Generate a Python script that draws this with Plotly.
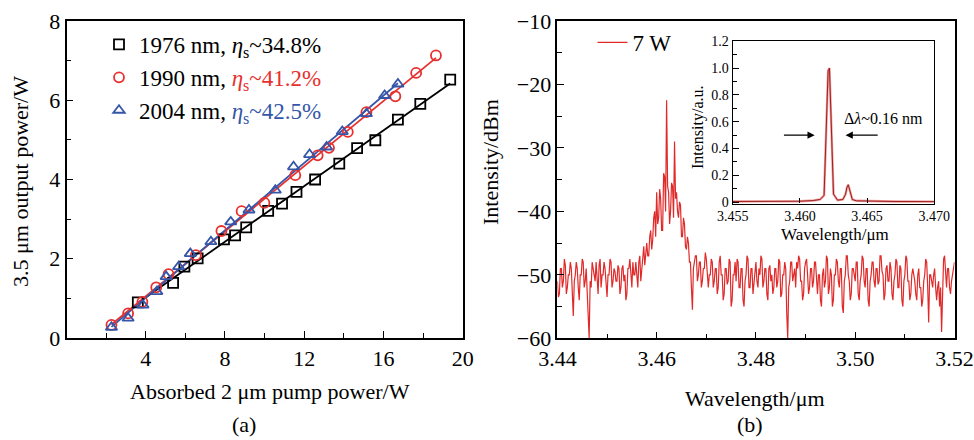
import numpy as np
import plotly.graph_objects as go

# ---------------- data: panel (a) ----------------
x_1976 = [3.6, 5.38, 5.95, 6.62, 7.95, 8.51, 9.07, 10.18, 10.88, 11.61, 12.55, 13.77, 14.67, 15.59, 16.73, 17.86, 19.37]
y_1976 = [0.90, 1.39, 1.80, 2.01, 2.49, 2.59, 2.79, 3.21, 3.39, 3.69, 4.00, 4.40, 4.79, 4.99, 5.51, 5.91, 6.52]

x_1990 = [2.27, 3.11, 3.83, 4.53, 5.15, 6.53, 7.82, 8.84, 9.99, 11.55, 12.68, 13.25, 14.20, 15.14, 16.60, 17.65, 18.65]
y_1990 = [0.33, 0.62, 0.91, 1.28, 1.61, 2.09, 2.70, 3.20, 3.41, 4.11, 4.61, 4.80, 5.20, 5.70, 6.10, 6.69, 7.13]

x_2004 = [2.27, 3.11, 3.86, 4.56, 5.03, 5.66, 6.25, 7.29, 8.29, 9.21, 10.54, 11.46, 12.27, 13.13, 13.92, 15.14, 16.06, 16.73]
y_2004 = [0.27, 0.50, 0.83, 1.17, 1.55, 1.80, 2.13, 2.43, 2.93, 3.23, 3.73, 4.32, 4.63, 4.82, 5.21, 5.66, 6.12, 6.41]

names_a = ["1976 nm", "1990 nm", "2004 nm"]
slopes_a = ["34.8%", "41.2%", "42.5%"]

# ---------------- data: panel (b) ----------------
wl_start, wl_stop = 3.44, 3.52   # sampled every 0.0002 um
spec_dbm = [
    -51, -53.5, -53, -49, -49, -52, -51, -47.5, -48.5, -53, -52, -50, -50, -48, -49, -54, -56.5, -51, -50, -48,
    -49, -52, -54, -50, -50, -47.5, -48, -52, -51, -49, -52, -55, -60, -51, -52, -48, -49, -50.5, -51, -48,
    -50, -53, -48.5, -47.5, -52, -50, -50, -48, -49, -52, -53.5, -50, -50, -47.5, -48, -52, -51, -49, -49.5, -51,
    -51, -48.5, -49, -53, -52, -49, -48.5, -51, -50, -54, -53, -49, -49, -47.5, -51, -52, -48, -50, -50, -48,
    -50, -52, -48, -47, -51, -49, -47, -45.5, -48.5, -46, -45, -47, -47, -44, -43, -46, -44.5, -41, -40, -44,
    -37, -42, -41, -36.5, -38, -43, -43, -34, -34.5, -40, -22.5, -36, -37, -42, -40, -35.5, -36, -41, -29, -38,
    -37, -40, -41, -38.5, -39, -44, -44, -41, -42, -45.5, -46, -44, -45, -48, -48, -52, -55.5, -49, -48, -47,
    -47, -51, -50, -48, -48, -52, -51, -49, -49, -46.5, -47.5, -51, -52, -50, -50, -47.5, -48, -52, -51, -49,
    -49, -53, -52, -48, -47, -50, -50, -54, -53, -49, -49, -51.5, -51, -47.5, -48, -55, -54, -50, -50, -48,
    -51, -47.5, -48, -52, -52, -49, -49, -54, -55, -51, -50, -47, -47.5, -52, -52, -49, -49, -53, -51, -49,
    -48, -51, -52, -49, -50, -47, -47.5, -52, -51, -49, -49, -53, -54, -49, -48.5, -51, -50, -53, -52, -49,
    -49, -52, -51, -47.5, -48, -53.5, -53, -50, -50, -48, -49, -56, -60, -52, -51, -48, -48, -51, -50, -49,
    -52, -48, -49, -47, -47.5, -51, -51, -54, -53, -49, -48, -47.5, -50, -53, -52, -49, -49, -52, -51, -48,
    -48, -52, -53, -50, -50, -54, -55, -50, -49, -52, -51, -47, -47.5, -53, -52, -49, -50, -55, -54, -50,
    -50, -47.5, -48, -51, -52, -49, -49, -55, -56, -51, -50, -47, -47, -50, -51, -54, -53, -49, -49, -50,
    -51, -48, -48, -53, -54, -51, -50, -47, -47.5, -51, -52, -49, -49, -54, -55, -51, -50, -48, -48, -51,
    -52, -49, -49, -51.5, -51, -47, -47, -49.5, -50, -54, -53, -49, -48.5, -51, -51, -48, -49, -53, -54, -51,
    -50, -47.5, -48, -52, -52, -48.5, -49, -54, -55, -51, -50, -47, -47.5, -51, -51, -54, -53, -50, -49, -50,
    -51, -53, -54, -50, -49, -52, -52, -55, -54, -51, -50, -47.5, -48, -52, -57.5, -50, -50, -51, -52, -50,
    -49, -52, -54, -52, -51, -55, -52, -59, -50, -47.5, -47, -51, -52, -49, -49, -52, -53, -51, -50, -49,
    -48,
]
spec_wl = np.linspace(wl_start, wl_stop, len(spec_dbm))

inset_wl = [3.4550, 3.4570, 3.4590, 3.4600, 3.4610, 3.4615, 3.4618, 3.4620, 3.4621, 3.4622, 3.4623,
            3.4625, 3.4628, 3.4632, 3.4634, 3.4635, 3.4636, 3.4637, 3.4639, 3.4642, 3.4650, 3.4660,
            3.4670, 3.4700]
inset_int = [0.005, 0.006, 0.005, 0.007, 0.012, 0.02, 0.05, 0.60, 0.98, 1.0, 0.70,
             0.06, 0.015, 0.02, 0.06, 0.11, 0.13, 0.09, 0.02, 0.01, 0.008, 0.006,
             0.005, 0.004]

# ---------------- styling ----------------
FONT = "Liberation Serif"
BLACK, RED, BLUE = "#000000", "#e8302e", "#3556a8"
SPEC_RED = "#e02a2a"

fig = go.Figure()

series = [(x_1976, y_1976, BLACK, "square-open"),
          (x_1990, y_1990, RED, "circle-open"),
          (x_2004, y_2004, BLUE, "triangle-up-open")]

for (xs, ys, col, sym), nm, sl in zip(series, names_a, slopes_a):
    k, b = np.polyfit(xs, ys, 1)
    xf = np.array([min(xs), max(xs)])
    fig.add_trace(go.Scatter(x=xf, y=k * xf + b, mode="lines", line=dict(color=col, width=1.8),
                             showlegend=False, xaxis="x", yaxis="y", hoverinfo="skip"))
for (xs, ys, col, sym), nm, sl in zip(series, names_a, slopes_a):
    txtcol = "black" if col == BLACK else col
    label = f"{nm}, <span style='color:{txtcol}'><i>η</i><sub>s</sub>~{sl}</span>"
    fig.add_trace(go.Scatter(x=xs, y=ys, mode="markers", name=label,
                             marker=dict(symbol=sym, size=10, color=col, line=dict(color=col, width=1.8)),
                             xaxis="x", yaxis="y", legend="legend"))

fig.add_trace(go.Scatter(x=spec_wl, y=spec_dbm, mode="lines", name="7 W",
                         line=dict(color=SPEC_RED, width=1.2), xaxis="x2", yaxis="y2", legend="legend2"))

fig.add_trace(go.Scatter(x=inset_wl, y=inset_int, mode="lines", line=dict(color="rgba(235,130,130,0.8)", width=2.4),
                         showlegend=False, xaxis="x3", yaxis="y3"))
fig.add_trace(go.Scatter(x=inset_wl, y=inset_int, mode="lines", line=dict(color="#9a2020", width=1.0),
                         showlegend=False, xaxis="x3", yaxis="y3"))

W, H = 974, 440
def px(v):
    return v / W
def py(v):
    return 1 - v / H

tick_font = dict(family=FONT, size=22, color="black")
ax_common = dict(showline=True, linecolor="black", linewidth=1.5, mirror=True, showgrid=False,
                 zeroline=False, ticks="inside", tickcolor="black", tickwidth=1.2, ticklen=7,
                 tickfont=tick_font, automargin=False)
inset_font = dict(family=FONT, size=14, color="black")

fig.update_layout(
    width=W, height=H, margin=dict(l=0, r=0, t=0, b=0, pad=0, autoexpand=False),
    paper_bgcolor="white", plot_bgcolor="white",
    font=dict(family=FONT, color="black"),
    xaxis=dict(domain=[px(66.5), px(462.7)], anchor="y", range=[0, 20],
               tickvals=[4, 8, 12, 16, 20],
               minor=dict(tickmode="linear", tick0=0, dtick=2, ticks="inside", ticklen=5,
                          tickcolor="black", tickwidth=1.2), **ax_common),
    yaxis=dict(domain=[py(338), py(21)], anchor="x", range=[0, 8], dtick=2,
               minor=dict(dtick=1, ticks="inside", ticklen=5, tickcolor="black", tickwidth=1.2),
               **ax_common),
    xaxis2=dict(domain=[px(557.4), px(954.5)], anchor="y2", range=[3.44, 3.52], dtick=0.02,
                tickformat=".2f",
                minor=dict(dtick=0.01, ticks="inside", ticklen=5, tickcolor="black", tickwidth=1.2),
                **ax_common),
    yaxis2=dict(domain=[py(338.3), py(21)], anchor="x2", range=[-60, -10], dtick=10,
                minor=dict(dtick=5, ticks="inside", ticklen=5, tickcolor="black", tickwidth=1.2),
                **ax_common),
    xaxis3=dict(domain=[px(732.7), px(934.3)], anchor="y3", range=[3.455, 3.470], dtick=0.005,
                tickformat=".3f", showline=True, linecolor="black", linewidth=1.2, mirror=True,
                showgrid=False, zeroline=False, ticks="inside", ticklen=5, tickcolor="black",
                tickfont=inset_font, automargin=False),
    yaxis3=dict(domain=[py(203.5), py(41.3)], anchor="x3", range=[-0.01, 1.2],
                tickvals=[0, 0.2, 0.4, 0.6, 0.8, 1.0, 1.2],
                ticktext=["0", "0.2", "0.4", "0.6", "0.8", "1.0", "1.2"],
                minor=dict(dtick=0.1, ticks="inside", ticklen=4, tickcolor="black"),
                showline=True, linecolor="black", linewidth=1.2, mirror=True,
                showgrid=False, zeroline=False, ticks="inside", ticklen=6, tickcolor="black",
                tickfont=inset_font, automargin=False),
    legend=dict(x=px(99), y=py(23), xanchor="left", yanchor="top", bgcolor="rgba(0,0,0,0)",
                font=dict(family=FONT, size=23, color="black"), tracegroupgap=0),
    legend2=dict(x=px(592.5), y=py(21), xanchor="left", yanchor="top", bgcolor="rgba(0,0,0,0)",
                 font=dict(family=FONT, size=23, color="black")),
    showlegend=True,
)

ann = [
    dict(text="3.5 μm output power/W", x=px(21), y=py(182), textangle=-90, size=22),
    dict(text="Absorbed 2 μm pump power/W", x=px(270), y=py(391), size=22),
    dict(text="(a)", x=px(244), y=py(424), size=22),
    dict(text="Intensity/dBm", x=px(490), y=py(162), textangle=-90, size=22),
    dict(text="Wavelength/μm", x=px(755), y=py(398), size=22),
    dict(text="(b)", x=px(750), y=py(424), size=22),
    dict(text="Wavelength/μm", x=px(835), y=py(234), size=17),
    dict(text="Intensity/a.u.", x=px(698), y=py(127), textangle=-90, size=16),
]
for a in ann:
    fig.add_annotation(text=a["text"], x=a["x"], y=a["y"], xref="paper", yref="paper",
                       showarrow=False, textangle=a.get("textangle", 0),
                       font=dict(family=FONT, size=a["size"], color="black"),
                       xanchor="center", yanchor="middle")

fig.add_annotation(text="Δ<i>λ</i>~0.16 nm", x=3.4662, y=0.627, xref="x3", yref="y3", showarrow=False,
                   font=dict(family=FONT, size=16, color="black"))
fig.add_annotation(x=3.4611, y=0.50, ax=3.4587, ay=0.50, xref="x3", yref="y3", axref="x3", ayref="y3",
                   text="", showarrow=True, arrowhead=2, arrowsize=1.2, arrowwidth=1.2, arrowcolor="black")
fig.add_annotation(x=3.4634, y=0.50, ax=3.4659, ay=0.50, xref="x3", yref="y3", axref="x3", ayref="y3",
                   text="", showarrow=True, arrowhead=2, arrowsize=1.2, arrowwidth=1.2, arrowcolor="black")

fig.write_html("out.html", config={"displayModeBar": False},
               post_script="document.body.style.margin='0px';document.body.style.overflow='hidden';")
